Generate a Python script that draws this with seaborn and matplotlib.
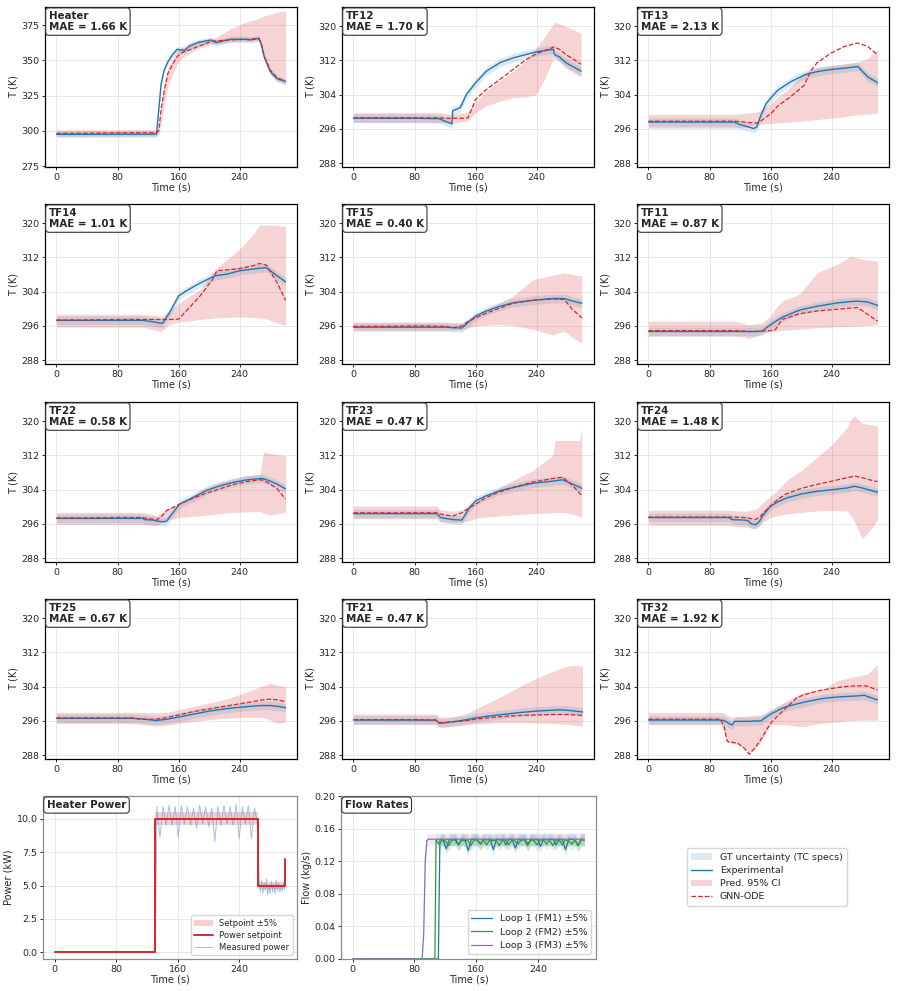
import numpy as np
import pandas as pd
import matplotlib
matplotlib.use("Agg")
import matplotlib.pyplot as plt
from matplotlib.patches import Patch
from matplotlib.lines import Line2D
import seaborn as sns

# ---------------- data ----------------
XTICKS = [0, 80, 160, 240]

T_HEATER = [0, 40, 80, 120, 131, 134, 137, 141, 146, 152, 158, 163, 168, 174, 185, 202, 209, 228, 246, 254, 265, 268, 272, 280, 289, 300]
EXP_HEATER = [297.5, 297.5, 297.6, 297.6, 297.6, 315, 333, 343, 349, 354, 357.8, 357.3, 357.0, 360, 362.5, 364.4, 362.5, 364.9, 364.9, 364.4, 365.6, 362, 352.6, 342, 337, 334.9]
PRED_HEATER = [298.2, 298.3, 298.5, 298.6, 298.6, 300, 315, 328, 340.8, 347, 352.6, 355, 356.3, 357.3, 359.7, 363.2, 363.8, 364.4, 364.8, 365, 365.6, 362, 353, 343, 337.5, 335.2]
HI_HEATER = [300.7, 300.7, 300.8, 300.8, 300.8, 303, 320, 333, 345, 351, 357, 359, 360, 362, 364, 365.5, 366, 372.6, 376.5, 378, 379.7, 380.5, 381.5, 382.5, 384, 385]
LO_HEATER = [296, 296, 296.2, 296.3, 296.3, 297, 305, 318, 332, 340, 347, 351, 353, 355, 358, 361.5, 361.5, 363, 363.5, 363.5, 364, 358, 350, 340, 335, 333]

T_TF12 = [0, 40, 80, 112, 120, 129, 130, 135, 140, 148, 150, 160, 174, 192, 209, 226, 239, 250, 262, 263, 270, 278, 288, 298]
EXP_TF12 = [298.5, 298.5, 298.5, 298.4, 297.8, 297.2, 300.3, 300.6, 301, 304.1, 304.5, 306.8, 309.5, 311.5, 312.6, 313.4, 314, 314.3, 314.6, 313.4, 312.8, 311.5, 310.5, 309.5]
PRED_TF12 = [298.6, 298.6, 298.6, 298.6, 298.5, 298.5, 298.5, 298.5, 298.5, 298.5, 298.6, 302.9, 305.2, 307.6, 309.9, 312.2, 313.5, 314.3, 315.1, 315.1, 314.6, 313.4, 312.3, 311.1]
HI_TF12 = [299.8, 299.8, 299.8, 299.8, 299.6, 299.4, 299.4, 299.5, 299.6, 299.8, 299.9, 302.5, 304.9, 307.5, 309.5, 312, 314.7, 317.5, 320.5, 320.9, 320.6, 320, 319.2, 318.4]
LO_TF12 = [297.5, 297.5, 297.5, 297.5, 297.4, 297.3, 297.3, 297.4, 297.6, 297.8, 297.9, 299.8, 301.4, 302.5, 303.3, 303.5, 304, 307.5, 312.5, 312.7, 311.8, 310.3, 309.2, 308.2]

T_TF13 = [0, 40, 80, 112, 120, 130, 138, 142, 147, 154, 160, 169, 186, 204, 212, 221, 239, 257, 274, 287, 300]
EXP_TF13 = [297.6, 297.6, 297.6, 297.6, 297.0, 296.5, 296.1, 296.5, 299.1, 301.9, 303.2, 305, 307, 308.6, 309.0, 309.4, 309.9, 310.2, 310.6, 308.2, 306.8]
PRED_TF13 = [297.8, 297.8, 297.8, 297.8, 297.7, 297.5, 297.4, 297.4, 297.8, 298.8, 299.5, 301.3, 303.5, 306.2, 309.4, 311.5, 313.7, 315.3, 316.1, 315.3, 313.3]
HI_TF13 = [299.4, 299.4, 299.4, 299.4, 299.5, 299.7, 299.8, 299.9, 300.5, 301.2, 301.9, 303.3, 305.8, 309, 309.8, 310.3, 310.8, 311.2, 311.6, 312.5, 314.5]
LO_TF13 = [296.2, 296.2, 296.2, 296.2, 296.3, 296.5, 296.8, 297.0, 297.1, 297.2, 297.2, 297.4, 297.6, 297.9, 298.0, 298.2, 298.5, 298.9, 299.3, 299.5, 299.7]

T_TF14 = [0, 40, 80, 113, 125, 135, 139, 148, 160, 170, 188, 205, 210, 223, 240, 258, 266, 275, 289, 300]
EXP_TF14 = [297.3, 297.3, 297.3, 297.3, 297.0, 296.7, 296.6, 299.1, 303, 304.2, 306, 307.5, 307.8, 308.1, 308.9, 309.3, 309.5, 309.6, 307.7, 306.3]
PRED_TF14 = [297.4, 297.4, 297.5, 297.5, 297.5, 297.5, 297.5, 297.5, 297.6, 299.5, 303, 307.0, 308.9, 309.1, 309.4, 310.1, 310.6, 310.2, 306.1, 302]
HI_TF14 = [298.7, 298.7, 298.7, 298.7, 298.5, 298.3, 298.4, 299.5, 301.3, 302.5, 304.5, 308.5, 309.6, 311.5, 314, 317.5, 319.6, 319.6, 319.5, 319.3]
LO_TF14 = [295.7, 295.7, 295.7, 295.7, 295.2, 294.7, 295.0, 296.3, 296.9, 297.1, 297.5, 297.8, 297.9, 298, 298.1, 298.0, 297.9, 297.6, 296.7, 296.1]

T_TF15 = [0, 40, 80, 122, 129, 142, 150, 160, 174, 192, 209, 235, 261, 276, 287, 299]
EXP_TF15 = [295.7, 295.7, 295.7, 295.7, 295.6, 295.5, 296.8, 298.3, 299.5, 300.6, 301.4, 302, 302.4, 302.4, 301.8, 301.3]
PRED_TF15 = [295.9, 295.9, 296.0, 295.9, 295.5, 296.0, 297.0, 297.9, 299.0, 300.2, 301.3, 302, 302.3, 302.2, 299.8, 297.9]
HI_TF15 = [296.9, 296.9, 296.9, 296.9, 296.8, 296.8, 297.5, 298.7, 300.0, 301.4, 303, 306.8, 307.8, 308.4, 308.0, 307.7]
LO_TF15 = [295.0, 295.0, 295.0, 295.0, 295.0, 295.0, 295.5, 296, 296.2, 296.3, 296.1, 295.2, 293.9, 294.8, 293.2, 292]

T_TF11 = [0, 40, 80, 112, 125, 131, 140, 149, 160, 166, 175, 195, 200, 221, 248, 265, 274, 287, 300]
EXP_TF11 = [294.7, 294.7, 294.7, 294.7, 294.7, 294.7, 294.7, 294.8, 296.3, 297.0, 298.0, 299.5, 299.8, 300.6, 301.4, 301.7, 301.8, 301.6, 300.8]
PRED_TF11 = [294.9, 294.9, 294.9, 294.9, 294.8, 294.7, 294.7, 294.8, 294.9, 295.1, 297.5, 298.7, 298.9, 299.5, 299.9, 300.2, 300.3, 298.7, 297.1]
HI_TF11 = [297.1, 297.1, 297.1, 297.1, 296.6, 296.3, 296.5, 296.7, 298.3, 300.0, 301.8, 303.2, 303.8, 308.5, 310.4, 312.4, 311.8, 311.4, 311.2]
LO_TF11 = [293.6, 293.6, 293.6, 293.6, 293.4, 293.0, 293.5, 294.2, 294.7, 294.8, 295.0, 295.2, 295.3, 295.6, 295.8, 295.9, 296.0, 296.1, 296.3]

T_TF22 = [0, 40, 80, 113, 115, 126, 131, 139, 144, 161, 179, 188, 196, 214, 231, 249, 266, 268, 271, 280, 289, 300]
EXP_TF22 = [297.3, 297.3, 297.3, 297.3, 297.0, 296.9, 296.7, 296.5, 296.6, 300.6, 302.2, 303.0, 303.8, 304.9, 305.7, 306.3, 306.6, 306.6, 306.6, 306.0, 305.3, 304.2]
PRED_TF22 = [297.4, 297.4, 297.5, 297.5, 297.4, 297.1, 296.9, 298.0, 299.1, 300.6, 302.0, 302.6, 303.2, 304.2, 305.2, 305.9, 306.3, 306.3, 306.2, 305.3, 304.2, 301.8]
HI_TF22 = [298.7, 298.7, 298.7, 298.7, 298.6, 298.2, 297.9, 298.8, 299.5, 300.5, 302.8, 303.8, 304.5, 305.7, 306.5, 307.3, 307.5, 309, 312.8, 312.5, 312.2, 312.0]
LO_TF22 = [295.9, 295.9, 295.9, 295.9, 295.8, 295.6, 295.6, 296.3, 296.8, 297.5, 297.8, 297.9, 298.1, 298.4, 298.7, 298.8, 298.9, 298.8, 298.6, 298.1, 298.4, 298.7]

T_TF23 = [0, 40, 80, 109, 114, 127, 131, 142, 152, 160, 174, 192, 209, 235, 261, 264, 274, 287, 296, 299]
EXP_TF23 = [298.4, 298.4, 298.4, 298.4, 297.5, 297.1, 297.0, 296.9, 299.8, 301.4, 302.6, 303.8, 304.5, 305.5, 306.0, 306.1, 306.3, 305.3, 304.6, 304.3]
PRED_TF23 = [298.6, 298.6, 298.6, 298.6, 298.3, 297.9, 297.9, 298.6, 299.8, 300.6, 302.2, 303.5, 304.5, 305.8, 306.6, 306.7, 306.9, 305, 303.2, 302.6]
HI_TF23 = [300.2, 300.2, 300.2, 300.2, 299.3, 299.0, 299.0, 299.3, 300.5, 301.4, 302.5, 304.5, 306.2, 308.5, 312.0, 315.5, 315.5, 315.5, 315.5, 318.3]
LO_TF23 = [297.3, 297.3, 297.3, 297.3, 296.5, 296.3, 296.3, 296.3, 296.8, 297.3, 297.6, 297.9, 298.1, 298.4, 298.6, 298.7, 298.7, 298.3, 297.8, 297.5]

T_TF24 = [0, 40, 80, 105, 110, 125, 130, 135, 140, 145, 150, 160, 170, 180, 200, 220, 240, 260, 265, 270, 280, 290, 300]
EXP_TF24 = [297.5, 297.5, 297.5, 297.5, 297.0, 296.9, 296.8, 296.0, 295.8, 296.5, 298.0, 300.2, 301.2, 302.0, 303.0, 303.6, 304.0, 304.4, 304.6, 304.8, 304.4, 303.9, 303.4]
PRED_TF24 = [297.6, 297.6, 297.6, 297.6, 297.6, 297.5, 297.4, 297.2, 297.0, 297.5, 298.5, 300.2, 301.8, 303.0, 304.3, 305.2, 306.0, 306.8, 307.0, 307.2, 306.8, 306.3, 305.9]
HI_TF24 = [299.2, 299.2, 299.2, 299.2, 299.1, 299.0, 299.0, 299.2, 299.5, 300.0, 301, 302.5, 304, 306, 308.5, 311.5, 314.5, 318.5, 320.5, 321.3, 319.5, 319.2, 319.0]
LO_TF24 = [295.7, 295.7, 295.7, 295.7, 295.5, 295.3, 295.2, 295.0, 295.0, 295.5, 296.5, 297.5, 298.0, 298.3, 298.7, 299.0, 299.2, 299.0, 298.0, 296.5, 292.5, 294.5, 297.0]

T_TF25 = [0, 40, 80, 100, 110, 130, 145, 160, 180, 200, 220, 240, 260, 270, 280, 290, 300]
EXP_TF25 = [296.6, 296.6, 296.6, 296.6, 296.5, 296.1, 296.4, 296.9, 297.6, 298.3, 298.8, 299.2, 299.5, 299.6, 299.6, 299.4, 299.1]
PRED_TF25 = [296.7, 296.7, 296.7, 296.7, 296.4, 296.4, 296.8, 297.4, 298.2, 298.8, 299.4, 300.0, 300.6, 300.9, 301.1, 300.9, 300.5]
HI_TF25 = [298.0, 298.0, 298.0, 298.0, 298.0, 297.9, 298.0, 298.6, 299.4, 300.2, 301.0, 302.2, 303.5, 304.2, 304.8, 304.3, 304.0]
LO_TF25 = [295.4, 295.4, 295.4, 295.4, 295.2, 294.8, 295.0, 295.4, 295.9, 296.3, 296.6, 296.8, 296.9, 296.8, 296.2, 295.4, 295.8]

T_TF21 = [0, 40, 80, 108, 112, 118, 130, 145, 160, 180, 200, 220, 240, 260, 270, 280, 290, 300]
EXP_TF21 = [296.2, 296.2, 296.2, 296.2, 295.5, 295.5, 295.8, 296.2, 296.7, 297.2, 297.6, 298.0, 298.3, 298.5, 298.6, 298.5, 298.3, 298.1]
PRED_TF21 = [296.3, 296.3, 296.3, 296.2, 295.6, 295.6, 295.8, 296.0, 296.4, 296.8, 297.1, 297.3, 297.4, 297.5, 297.5, 297.5, 297.4, 297.3]
HI_TF21 = [297.6, 297.6, 297.6, 297.6, 297.0, 296.9, 297.0, 297.5, 298.8, 300.5, 302.3, 304.3, 306.0, 307.5, 308.2, 308.8, 309.0, 308.8]
LO_TF21 = [295.2, 295.2, 295.2, 295.2, 294.6, 294.6, 294.8, 295.0, 295.3, 295.5, 295.6, 295.6, 295.5, 295.4, 295.3, 295.2, 295.0, 294.8]

T_TF32 = [0, 40, 80, 94, 99, 103, 106, 110, 113, 116, 125, 132, 140, 147, 160, 178, 195, 204, 221, 230, 248, 257, 270, 283, 287, 300]
EXP_TF32 = [296.2, 296.2, 296.2, 296.2, 296.1, 295.7, 295.3, 295.1, 295.9, 295.9, 295.9, 295.9, 296.0, 296.0, 297.6, 299.2, 300.0, 300.4, 301.0, 301.3, 301.6, 301.7, 301.8, 302.0, 301.7, 300.9]
PRED_TF32 = [296.4, 296.4, 296.4, 296.4, 294.8, 291.3, 291.0, 291.0, 290.9, 290.9, 289.7, 288.2, 289.8, 291.6, 295.5, 298.7, 301.5, 302.1, 303.0, 303.3, 303.8, 304.0, 304.2, 304.2, 304.1, 303.2]
HI_TF32 = [298.0, 298.0, 298.0, 298.0, 297.8, 297.4, 297.0, 296.9, 296.9, 297.0, 297.1, 297.2, 297.3, 297.4, 298.5, 300.4, 302.0, 302.7, 303.2, 303.5, 305.5, 305.8, 306.3, 306.8, 307.0, 309.2]
LO_TF32 = [295.2, 295.2, 295.2, 295.2, 293.5, 291.0, 290.9, 290.7, 290.6, 290.5, 289.8, 288.6, 289.5, 291.0, 295.1, 295.1, 294.8, 294.7, 295.3, 295.5, 295.8, 296.0, 296.1, 296.2, 296.2, 296.2]

PANEL_NAMES = ["Heater", "TF12", "TF13", "TF14", "TF15", "TF11",
               "TF22", "TF23", "TF24", "TF25", "TF21", "TF32"]
PANEL_MAE = [1.66, 1.70, 2.13, 1.01, 0.40, 0.87, 0.58, 0.47, 1.48, 0.67, 0.47, 1.92]
GT_UNC = [2.2] + [1.0] * 11  # thermocouple spec half-width (K)

# heater power
SP_T = [0, 131, 264, 299, 300]
SP_V = [0.0, 10.0, 5.0, 7.0, 7.0]
MEAS_HIGH = [10.9, 8.6, 10.9, 9.5, 11.0, 9.5, 10.9, 8.6, 11.0, 9.6, 10.9, 9.5, 10.8, 9.3, 11.0, 9.6, 10.9,
             9.4, 10.8, 8.3, 10.9, 9.5, 11.0, 9.6, 10.9, 9.5, 11.1, 8.5, 10.9, 9.6, 11.0, 8.5, 10.8, 9.6]
MEAS_LOW = [5.3, 4.5, 5.4, 4.4, 5.2, 4.6, 5.5, 4.3, 5.0, 4.4, 5.3, 4.5, 5.1, 4.4, 5.4, 4.6, 5.2, 4.5, 5.0, 4.6, 5.2, 4.7]

# flow rates (kg/s)
FM3_T = [0, 90, 92, 94, 96, 98, 300]
FM3_V = [0, 0, 0.03, 0.12, 0.145, 0.147, 0.147]
FM2_V = [0.146, 0.141, 0.146, 0.145, 0.139, 0.146, 0.146, 0.140, 0.146, 0.145, 0.146, 0.139, 0.146, 0.146,
         0.141, 0.146, 0.140, 0.146, 0.145, 0.146, 0.139, 0.146, 0.146, 0.140, 0.146, 0.145, 0.141, 0.146,
         0.146, 0.139, 0.146, 0.145, 0.140, 0.146, 0.146, 0.141, 0.146, 0.139, 0.146, 0.146, 0.140, 0.146,
         0.145, 0.141, 0.146, 0.139, 0.146, 0.146]
FM1_V = [0.147, 0.146, 0.135, 0.147, 0.146, 0.147, 0.140, 0.147, 0.146, 0.133, 0.147, 0.147, 0.146, 0.141,
         0.147, 0.146, 0.147, 0.134, 0.147, 0.146, 0.147, 0.140, 0.147, 0.147, 0.136, 0.147, 0.146, 0.147,
         0.141, 0.147, 0.146, 0.147, 0.138, 0.147, 0.146, 0.147, 0.147, 0.140, 0.147, 0.146, 0.134, 0.147,
         0.147, 0.146, 0.139, 0.147, 0.146]

# ---------------- style ----------------
sns.set_theme(style="ticks")
plt.rcParams["font.family"] = ["DejaVu Sans"]
plt.rcParams["axes.edgecolor"] = "black"
plt.rcParams["xtick.labelsize"] = 6.8
plt.rcParams["ytick.labelsize"] = 6.8
plt.rcParams["axes.labelsize"] = 7.0

C_EXP = "#1f77b4"
C_PRED = "#d62728"
FS_TITLE = 7.4

W, H = 897, 991
fig = plt.figure(figsize=(W / 100, H / 100), dpi=100)


def add_ax(left, top, width, height):
    return fig.add_axes([left / W, 1 - (top + height) / H, width / W, height / H])


col_left = [45, 342, 637]
row_top = [7, 204, 402, 599]

series = {
    "Heater": (T_HEATER, EXP_HEATER, PRED_HEATER, LO_HEATER, HI_HEATER),
    "TF12": (T_TF12, EXP_TF12, PRED_TF12, LO_TF12, HI_TF12),
    "TF13": (T_TF13, EXP_TF13, PRED_TF13, LO_TF13, HI_TF13),
    "TF14": (T_TF14, EXP_TF14, PRED_TF14, LO_TF14, HI_TF14),
    "TF15": (T_TF15, EXP_TF15, PRED_TF15, LO_TF15, HI_TF15),
    "TF11": (T_TF11, EXP_TF11, PRED_TF11, LO_TF11, HI_TF11),
    "TF22": (T_TF22, EXP_TF22, PRED_TF22, LO_TF22, HI_TF22),
    "TF23": (T_TF23, EXP_TF23, PRED_TF23, LO_TF23, HI_TF23),
    "TF24": (T_TF24, EXP_TF24, PRED_TF24, LO_TF24, HI_TF24),
    "TF25": (T_TF25, EXP_TF25, PRED_TF25, LO_TF25, HI_TF25),
    "TF21": (T_TF21, EXP_TF21, PRED_TF21, LO_TF21, HI_TF21),
    "TF32": (T_TF32, EXP_TF32, PRED_TF32, LO_TF32, HI_TF32),
}


def title_box(ax, text):
    ax.text(0.015, 0.975, text, transform=ax.transAxes, ha="left", va="top",
            fontsize=FS_TITLE, fontweight="bold", zorder=10, linespacing=1.15,
            bbox=dict(boxstyle="round,pad=0.3", fc="white", ec="#333333", lw=0.8))


def style_axes(ax, spine_color="black"):
    ax.grid(True, color="#e8e8e8", lw=0.7)
    ax.set_axisbelow(True)
    for s in ax.spines.values():
        s.set_color(spine_color)
        s.set_linewidth(0.9)
    ax.tick_params(length=2.5, width=0.7, pad=1.5)
    ax.set_xticks(XTICKS)
    ax.set_xlim(-15, 315)
    ax.set_xlabel("Time (s)", labelpad=1)


for i, name in enumerate(PANEL_NAMES):
    r, c = divmod(i, 3)
    ax = add_ax(col_left[c], row_top[r], 252, 160)
    t, e, p, lo, hi = series[name]
    df = pd.DataFrame({"t": t, "exp": e, "pred": p, "lo": lo, "hi": hi})
    u = GT_UNC[i]
    ax.fill_between(df["t"], df["lo"], df["hi"], color=C_PRED, alpha=0.2, lw=0)
    ax.fill_between(df["t"], df["exp"] - u, df["exp"] + u, color=C_EXP, alpha=0.15, lw=0)
    sns.lineplot(data=df, x="t", y="exp", ax=ax, color=C_EXP, lw=1.0, estimator=None, sort=False)
    sns.lineplot(data=df, x="t", y="pred", ax=ax, color=C_PRED, lw=0.9, linestyle="--",
                 estimator=None, sort=False)
    style_axes(ax)
    ax.set_ylabel("T (K)", labelpad=2)
    if name == "Heater":
        ax.set_ylim(274.3, 387.8)
        ax.set_yticks([275, 300, 325, 350, 375])
    else:
        ax.set_ylim(287.1, 324.5)
        ax.set_yticks([288, 296, 304, 312, 320])
    title_box(ax, f"{name}\nMAE = {PANEL_MAE[i]:.2f} K")

# ---------------- heater power ----------------
axp = add_ax(43, 796, 254, 163)
sp = pd.DataFrame({"t": SP_T, "v": SP_V})
meas_t = [0, 131] + list(np.linspace(133, 263.7, len(MEAS_HIGH))) + list(np.linspace(266, 299, len(MEAS_LOW)))
meas_v = [0.0, 0.0] + MEAS_HIGH + MEAS_LOW
meas = pd.DataFrame({"t": meas_t, "v": meas_v})
axp.fill_between(sp["t"], sp["v"] * 0.95, sp["v"] * 1.05, step="post", color=C_PRED, alpha=0.22, lw=0)
sns.lineplot(data=meas, x="t", y="v", ax=axp, color="#5b9bd5", alpha=0.6, lw=0.7,
             estimator=None, sort=False, zorder=2)
sns.lineplot(data=sp, x="t", y="v", ax=axp, color="#d62728", lw=1.4, drawstyle="steps-post",
             estimator=None, sort=False, zorder=3)
style_axes(axp, "#8c8c8c")
axp.set_ylabel("Power (kW)", labelpad=2)
axp.set_ylim(-0.5, 11.7)
axp.set_yticks([0, 2.5, 5, 7.5, 10])
axp.set_yticklabels(["0.0", "2.5", "5.0", "7.5", "10.0"])
title_box(axp, "Heater Power")
hp = [Patch(facecolor=C_PRED, alpha=0.22, edgecolor="none"),
      Line2D([], [], color="#d62728", lw=1.4),
      Line2D([], [], color="#5b9bd5", alpha=0.6, lw=0.7)]
axp.legend(hp, ["Setpoint ±5%", "Power setpoint", "Measured power"], loc="lower right",
           fontsize=6.0, frameon=True, edgecolor="#cccccc", borderpad=0.4, handlelength=2.2,
           labelspacing=0.35)

# ---------------- flow rates ----------------
axf = add_ax(341, 796, 255, 163)
fm1_t = [0, 111] + list(np.linspace(113, 300, len(FM1_V)))
fm1_v = [0, 0] + FM1_V
fm2_t = [0, 106.5] + list(np.linspace(108, 300, len(FM2_V)))
fm2_v = [0, 0] + FM2_V
flows = [
    ("Loop 1 (FM1) ±5%", fm1_t, fm1_v, "#1f77b4"),
    ("Loop 2 (FM2) ±5%", fm2_t, fm2_v, "#2ca02c"),
    ("Loop 3 (FM3) ±5%", FM3_T, FM3_V, "#9467bd"),
]
for lab, ft, fv, col in flows:
    d = pd.DataFrame({"t": ft, "v": fv})
    axf.fill_between(d["t"], d["v"] * 0.95, d["v"] * 1.05, color=col, alpha=0.15, lw=0)
for lab, ft, fv, col in flows:
    d = pd.DataFrame({"t": ft, "v": fv})
    sns.lineplot(data=d, x="t", y="v", ax=axf, color=col, lw=0.9, estimator=None, sort=False, label=lab)
style_axes(axf, "#8c8c8c")
axf.set_ylabel("Flow (kg/s)", labelpad=2)
axf.set_ylim(0, 0.2)
axf.set_yticks([0, 0.04, 0.08, 0.12, 0.16, 0.20])
axf.set_yticklabels(["0.00", "0.04", "0.08", "0.12", "0.16", "0.20"])
title_box(axf, "Flow Rates")
axf.legend(loc="lower right", fontsize=6.8, frameon=True, edgecolor="#cccccc", borderpad=0.4,
           handlelength=2.2, labelspacing=0.5)

# ---------------- figure legend ----------------
lh = [Patch(facecolor=C_EXP, alpha=0.15, edgecolor="none"),
      Line2D([], [], color=C_EXP, lw=1.0),
      Patch(facecolor=C_PRED, alpha=0.2, edgecolor="none"),
      Line2D([], [], color=C_PRED, lw=0.9, linestyle="--")]
fig.legend(lh, ["GT uncertainty (TC specs)", "Experimental", "Pred. 95% CI", "GNN-ODE"],
           loc="center", bbox_to_anchor=(767 / W, 1 - 877 / H), fontsize=6.8, frameon=True,
           edgecolor="#cccccc", handlelength=2.2, borderpad=0.45, labelspacing=0.45)

fig.savefig("out.png", dpi=100)
